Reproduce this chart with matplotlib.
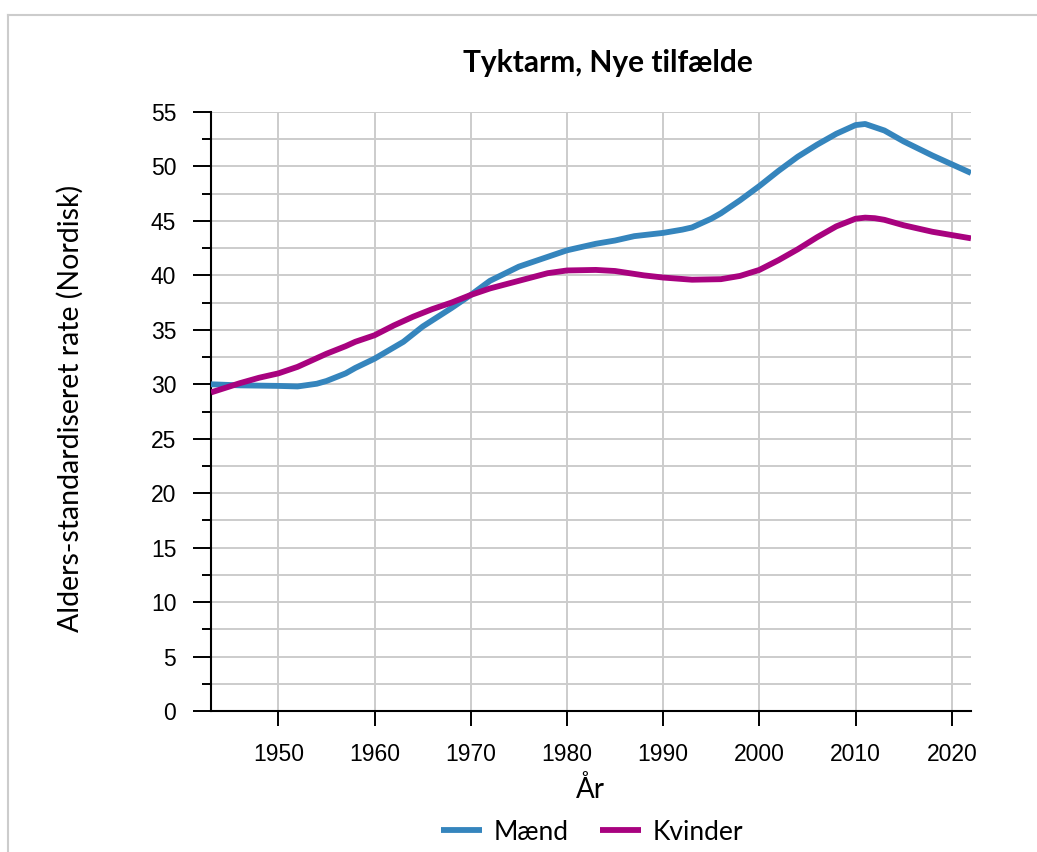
import matplotlib.pyplot as plt
from matplotlib.lines import Line2D
from matplotlib.ticker import MultipleLocator
import numpy as np

# Values
years_m = [1943, 1946, 1950, 1952, 1954, 1955, 1957, 1958, 1960, 1963, 1965, 1968, 1970,
           1972, 1975, 1978, 1980, 1983, 1985, 1987, 1990, 1992, 1993, 1995, 1996,
           1998, 2000, 2002, 2004, 2006, 2008, 2010, 2011, 2012, 2013, 2015, 2018,
           2020, 2022]
maend = [30.0, 29.9, 29.85, 29.8, 30.05, 30.3, 31.0, 31.5, 32.35, 33.9, 35.3, 37.0, 38.2,
         39.5, 40.8, 41.7, 42.3, 42.9, 43.2, 43.6, 43.9, 44.2, 44.4, 45.2, 45.7,
         46.9, 48.2, 49.6, 50.9, 52.0, 53.0, 53.8, 53.9, 53.6, 53.3, 52.3, 51.0,
         50.2, 49.4]

years_k = [1943, 1946, 1948, 1950, 1952, 1955, 1957, 1958, 1960, 1962, 1964, 1966,
           1968, 1970, 1972, 1975, 1978, 1980, 1983, 1985, 1988, 1990, 1993, 1996,
           1997, 1998, 2000, 2002, 2004, 2006, 2008, 2010, 2011, 2012, 2013, 2015,
           2018, 2020, 2022]
kvinder = [29.25, 30.1, 30.6, 31.0, 31.6, 32.8, 33.5, 33.9, 34.5, 35.4, 36.2, 36.9,
           37.5, 38.2, 38.8, 39.5, 40.2, 40.45, 40.5, 40.4, 40.0, 39.8, 39.6, 39.65,
           39.8, 39.95, 40.5, 41.4, 42.4, 43.5, 44.5, 45.2, 45.3, 45.25, 45.1, 44.6,
           44.0, 43.7, 43.4]

year_ticks = [1950, 1960, 1970, 1980, 1990, 2000, 2010, 2020]

blue = "#3585bd"
magenta = "#a8027f"
label_font = "Lato"
tick_font = "Liberation Sans"

fig = plt.figure(figsize=(10.37, 8.52), dpi=100)
ax = fig.add_axes([211 / 1037, 1 - 711 / 852, 760 / 1037, 599 / 852])

ax.plot(years_m, maend, color=blue, lw=4.2, label="Mænd", solid_capstyle="butt",
        solid_joinstyle="round", zorder=3)
ax.plot(years_k, kvinder, color=magenta, lw=4.2, label="Kvinder", solid_capstyle="butt",
        solid_joinstyle="round", zorder=3)

ax.set_xlim(1943, 2022)
ax.set_ylim(0, 55)
ax.set_xticks(year_ticks)
ax.yaxis.set_major_locator(MultipleLocator(5))
ax.yaxis.set_minor_locator(MultipleLocator(2.5))
ax.grid(True, which="both", color="#cccccc", lw=1.4, zorder=0)
ax.set_axisbelow(True)

for side in ["top", "right"]:
    ax.spines[side].set_visible(False)
ax.spines["left"].set_linewidth(1.5)
ax.spines["bottom"].set_linewidth(1.5)
ax.tick_params(axis="y", which="major", length=13, width=1.4, pad=12)
ax.tick_params(axis="y", which="minor", length=6.5, width=1.4)
ax.tick_params(axis="x", which="major", length=11, width=1.4, pad=12)
for lab in ax.get_xticklabels() + ax.get_yticklabels():
    lab.set_fontfamily(tick_font)
    lab.set_fontsize(16.5)

# axis labels and title placed in figure pixels, like the reference
fig.text(70 / 1037, 1 - 408 / 852, "Alders-standardiseret rate (Nordisk)", rotation=90,
         ha="center", va="center", fontfamily=label_font, fontsize=20.5)
fig.text(590 / 1037, 1 - 789 / 852, "År", ha="center", va="center",
         fontfamily=label_font, fontsize=20)
fig.text(608 / 1037, 1 - 63 / 852, "Tyktarm, Nye tilfælde", ha="center", va="center",
         fontfamily=label_font, fontweight="bold", fontsize=21.5)

fig.legend(loc="center", bbox_to_anchor=(592 / 1037, 1 - 832 / 852), ncol=2,
           frameon=False, prop={"family": label_font, "size": 19},
           handlelength=1.55, columnspacing=1.2, handletextpad=0.45)

# light frame around the chart
fig.add_artist(Line2D([8 / 1037, 8 / 1037], [0, 1 - 15 / 852], color="#cccccc", lw=1.5))
fig.add_artist(Line2D([8 / 1037, 1], [1 - 15 / 852, 1 - 15 / 852], color="#cccccc", lw=1.5))

fig.savefig("out.png", dpi=100)
